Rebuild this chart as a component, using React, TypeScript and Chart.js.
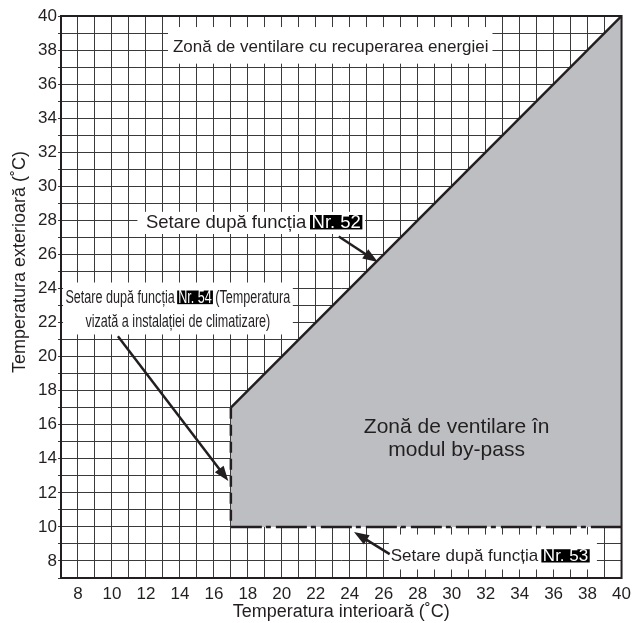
import React, { useEffect, useRef } from 'react';
import { Chart, registerables } from 'chart.js';
Chart.register(...registerables);

// axis ranges and ticks
const xMin = 7;
const xMax = 40;
const yMin = 7;
const yMax = 40;
const gridStep = 1;
const labelEvery = 2;

// bypass zone boundaries
const upperBoundary = [{ x: 17, y: 17 }, { x: 40, y: 40 }]; // Nr. 52
const lowerBoundary = [{ x: 17, y: 10 }, { x: 40, y: 10 }]; // Nr. 53
const leftBoundary = [{ x: 17, y: 17 }, { x: 17, y: 10 }]; // Nr. 54

// arrows [tail, tip]
const arrow52 = [{ x: 23.35, y: 27.05 }, { x: 25.65, y: 25.55 }];
const arrow54 = [{ x: 10.35, y: 21.2 }, { x: 16.85, y: 12.7 }];
const arrow53 = [{ x: 26.35, y: 8.4 }, { x: 24.25, y: 9.7 }];

// texts
const xTitle = 'Temperatura interioară (˚C)';
const yTitle = 'Temperatura exterioară (˚C)';
const recoveryLabel = 'Zonă de ventilare cu recuperarea energiei';
const bypassLabel = ['Zonă de ventilare în', 'modul by-pass'];
const label52 = [{ t: 'Setare după funcția ' }, { t: 'Nr. 52', hl: true }];
const label54a = [{ t: 'Setare după funcția ' }, { t: 'Nr. 54', hl: true }, { t: ' (Temperatura' }];
const label54b = [{ t: 'vizată a instalației de climatizare)' }];
const label53 = [{ t: 'Setare după funcția ' }, { t: 'Nr. 53', hl: true }];

const FONT = '"Liberation Sans", Arial, Helvetica, sans-serif';
const INK = '#231f20';
const ZONE = 'rgb(189,190,194)';

type Part = { t: string; hl?: boolean };

function drawParts(ctx: CanvasRenderingContext2D, parts: Part[], x: number, y: number, size: number, align: 'left' | 'center', sx = 1) {
  ctx.save();
  ctx.font = `${size}px ${FONT}`;
  ctx.textBaseline = 'middle';
  ctx.textAlign = 'left';
  const widths = parts.map((p) => ctx.measureText(p.t).width);
  const total = widths.reduce((a, b) => a + b, 0) * sx;
  const start = align === 'center' ? x - total / 2 : x;
  ctx.translate(start, y);
  ctx.scale(sx, 1);
  let cx = 0;
  parts.forEach((p, i) => {
    if (p.hl) {
      ctx.fillStyle = '#000';
      ctx.fillRect(cx - 1.5, -size * 0.4, widths[i] + 3, size * 0.78);
      ctx.fillStyle = '#fff';
    } else {
      ctx.fillStyle = INK;
    }
    ctx.fillText(p.t, cx, 0.5);
    cx += widths[i];
  });
  ctx.restore();
}

function drawArrow(ctx: CanvasRenderingContext2D, x1: number, y1: number, x2: number, y2: number) {
  const ang = Math.atan2(y2 - y1, x2 - x1);
  const L = 15;
  const W = 5.5;
  const c = Math.cos(ang);
  const s = Math.sin(ang);
  const bx = x2 - L * c;
  const by = y2 - L * s;
  ctx.save();
  ctx.strokeStyle = INK;
  ctx.fillStyle = INK;
  ctx.lineWidth = 2.5;
  ctx.beginPath();
  ctx.moveTo(x1, y1);
  ctx.lineTo(bx + 2 * c, by + 2 * s);
  ctx.stroke();
  ctx.beginPath();
  ctx.moveTo(x2, y2);
  ctx.lineTo(bx - W * s, by + W * c);
  ctx.lineTo(bx + W * s, by - W * c);
  ctx.closePath();
  ctx.fill();
  ctx.restore();
}

const annotations = {
  id: 'annotations',
  afterDatasetsDraw(chart: any) {
    const ctx: CanvasRenderingContext2D = chart.ctx;
    const xs = chart.scales.x;
    const ys = chart.scales.y;
    const px = (v: number) => xs.getPixelForValue(v);
    const py = (v: number) => ys.getPixelForValue(v);
    const box = (x1: number, y1: number, x2: number, y2: number) => {
      ctx.fillStyle = '#fff';
      const l = px(x1), r = px(x2), t = py(y2), b = py(y1);
      ctx.fillRect(l, t, r - l, b - t);
    };
    ctx.save();
    // frame
    const a = chart.chartArea;
    ctx.strokeStyle = INK;
    ctx.lineWidth = 2;
    ctx.strokeRect(a.left, a.top, a.right - a.left, a.bottom - a.top);

    // white label boxes
    box(13.3, 37.2, 32.4, 39.35);
    box(11.5, 27.2, 24.9, 28.5);
    box(7.12, 21.3, 20.65, 24.35);
    box(26.3, 7.5, 38.55, 9.55);

    // labels
    drawParts(ctx, [{ t: recoveryLabel }], px(22.88), py(38.18), 17, 'center');
    drawParts(ctx, label52, px(12.0), py(27.88), 18.5, 'left');
    drawParts(ctx, label54a, px(13.88), py(23.47), 17.5, 'center', 0.72);
    drawParts(ctx, label54b, px(13.88), py(22.06), 17.5, 'center', 0.72);
    drawParts(ctx, label53, px(26.41), py(8.29), 17, 'left');
    drawParts(ctx, [{ t: bypassLabel[0] }], px(30.29), py(15.88), 21, 'center');
    drawParts(ctx, [{ t: bypassLabel[1] }], px(30.29), py(14.53), 21, 'center');

    // arrows
    [arrow52, arrow54, arrow53].forEach((ar) => {
      drawArrow(ctx, px(ar[0].x), py(ar[0].y), px(ar[1].x), py(ar[1].y));
    });

    // axis titles
    ctx.fillStyle = INK;
    ctx.font = `18px ${FONT}`;
    ctx.textAlign = 'center';
    ctx.textBaseline = 'middle';
    ctx.fillText(xTitle, (a.left + a.right) / 2, 612);
    ctx.translate(20, 262);
    ctx.rotate(-Math.PI / 2);
    ctx.fillText(yTitle, 0, 0);
    ctx.restore();
  },
};

export default function App() {
  const ref = useRef<HTMLCanvasElement | null>(null);
  useEffect(() => {
    if (!ref.current) return;
    const tickCb = (v: any) => (Number(v) % labelEvery === 0 ? String(v) : '');
    const chart = new Chart(ref.current, {
      type: 'line',
      data: {
        datasets: [
          {
            data: upperBoundary,
            borderColor: INK,
            borderWidth: 2.5,
            backgroundColor: ZONE,
            fill: '+1',
            pointRadius: 0,
          },
          {
            data: lowerBoundary,
            borderColor: INK,
            borderWidth: 2.5,
            borderDash: [31, 4, 5, 5],
            fill: false,
            pointRadius: 0,
          },
          {
            data: leftBoundary,
            borderColor: INK,
            borderWidth: 2.5,
            borderDash: [11, 6],
            fill: false,
            pointRadius: 0,
          },
        ] as any,
      },
      options: {
        animation: false,
        responsive: false,
        devicePixelRatio: 1,
        layout: { padding: { left: 0, right: 15, top: 16, bottom: 0 } },
        plugins: {
          legend: { display: false },
          tooltip: { enabled: false },
          filler: { drawTime: 'beforeDatasetsDraw' },
        } as any,
        scales: {
          x: {
            type: 'linear',
            min: xMin,
            max: xMax,
            afterFit: (s: any) => { s.height = 45; },
            grid: { color: '#3a3a3a', lineWidth: 1, drawTicks: false },
            border: { display: false },
            ticks: {
              stepSize: gridStep,
              autoSkip: false,
              maxRotation: 0,
              padding: 6,
              color: INK,
              font: { family: FONT, size: 17 },
              callback: tickCb,
            },
          },
          y: {
            type: 'linear',
            min: yMin,
            max: yMax,
            afterFit: (s: any) => { s.width = 61; },
            grid: { color: '#3a3a3a', lineWidth: 1, drawTicks: true, tickLength: 3 },
            border: { display: false },
            ticks: {
              stepSize: gridStep,
              autoSkip: false,
              padding: 1,
              color: INK,
              font: { family: FONT, size: 17 },
              callback: tickCb,
            },
          },
        },
      },
      plugins: [annotations],
    });
    return () => chart.destroy();
  }, []);
  return (
    <div style={{ position: 'absolute', left: 0, top: 0, width: 637, height: 623, background: '#fff' }}>
      <canvas ref={ref} width={637} height={623} />
    </div>
  );
}
